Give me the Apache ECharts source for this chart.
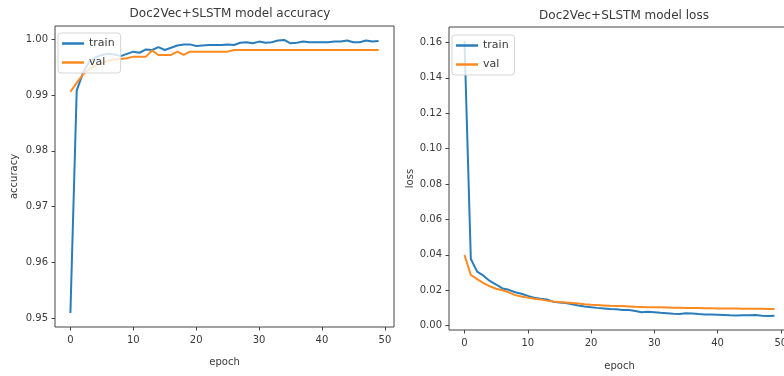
<!DOCTYPE html>
<html>
<head>
<meta charset="utf-8">
<script src="https://cdn.jsdelivr.net/npm/echarts@6/dist/echarts.min.js"></script>
<style>
  html, body { margin: 0; padding: 0; background: #fff; }
  #main { width: 784px; height: 376px; }
</style>
</head>
<body>
<div id="main"></div>
<script>
// values
var epochs = [];
for (var i = 0; i < 50; i++) epochs.push(i);

var trainAcc = [0.9509, 0.9908, 0.9940, 0.9960, 0.9968, 0.9972, 0.9974, 0.9973, 0.9970, 0.9974,
    0.9978, 0.9976, 0.9982, 0.9981, 0.9986, 0.9981, 0.9985, 0.9989, 0.9991, 0.9991,
    0.9988, 0.9989, 0.9990, 0.9990, 0.9990, 0.9991, 0.9990, 0.9994, 0.9995, 0.9993,
    0.9996, 0.9994, 0.9995, 0.9998, 0.9999, 0.9993, 0.9994, 0.9996, 0.9995, 0.9995,
    0.9995, 0.9995, 0.9996, 0.9996, 0.9998, 0.9995, 0.9995, 0.9998, 0.9996, 0.9997];
var valAcc = [0.9906, 0.9922, 0.9937, 0.9947, 0.9953, 0.9957, 0.9962, 0.9964, 0.9965, 0.9966,
    0.9969, 0.9969, 0.9969, 0.9980, 0.9972, 0.9972, 0.9972, 0.9978, 0.9972, 0.9978,
    0.9978, 0.9978, 0.9978, 0.9978, 0.9978, 0.9978, 0.9981, 0.9981, 0.9981, 0.9981,
    0.9981, 0.9981, 0.9981, 0.9981, 0.9981, 0.9981, 0.9981, 0.9981, 0.9981, 0.9981,
    0.9981, 0.9981, 0.9981, 0.9981, 0.9981, 0.9981, 0.9981, 0.9981, 0.9981, 0.9981];
var trainLoss = [0.1608, 0.0376, 0.0305, 0.0282, 0.0252, 0.0232, 0.0210, 0.0202, 0.0188, 0.0180,
    0.0168, 0.0158, 0.0152, 0.0148, 0.0135, 0.0131, 0.0127, 0.0120, 0.0113, 0.0108,
    0.0104, 0.0100, 0.0097, 0.0094, 0.0092, 0.0088, 0.0088, 0.0082, 0.0075, 0.0078,
    0.0075, 0.0072, 0.0070, 0.0067, 0.0066, 0.0070, 0.0068, 0.0065, 0.0063, 0.0062,
    0.0061, 0.0060, 0.0058, 0.0057, 0.0058, 0.0059, 0.0060, 0.0055, 0.0054, 0.0055];
var valLoss = [0.0399, 0.0286, 0.0262, 0.0240, 0.0222, 0.0208, 0.0200, 0.0188, 0.0172, 0.0164,
    0.0158, 0.0152, 0.0148, 0.0141, 0.0136, 0.0133, 0.0131, 0.0128, 0.0125, 0.0121,
    0.0118, 0.0116, 0.0114, 0.0112, 0.0111, 0.0110, 0.0108, 0.0106, 0.0105, 0.0104,
    0.0103, 0.0103, 0.0102, 0.0101, 0.0101, 0.0100, 0.0100, 0.0099, 0.0098, 0.0098,
    0.0097, 0.0097, 0.0096, 0.0096, 0.0095, 0.0095, 0.0095, 0.0095, 0.0094, 0.0094];

var xTicks = [0, 10, 20, 30, 40, 50];
var accTicks = [0.95, 0.96, 0.97, 0.98, 0.99, 1.00];
var lossTicks = [0.00, 0.02, 0.04, 0.06, 0.08, 0.10, 0.12, 0.14, 0.16];

var FONT = 'DejaVu Sans';
var TXT = '#3a3a3a';
var EDGE = '#444';
var BLUE = '#2a7dbb';
var ORANGE = '#ff8a1f';

function pairs(ys) {
    return ys.map(function (v, i) { return [epochs[i], v]; });
}

function xAxisOf(idx, gap) {
    return {
        type: 'value', gridIndex: idx, min: -2.45, max: 51.45,
        name: 'epoch', nameLocation: 'middle', nameGap: gap,
        nameTextStyle: { fontFamily: FONT, fontSize: 10, color: TXT },
        axisLine: { show: false, onZero: false },
        splitLine: { show: false },
        axisTick: { show: true, inside: false, length: 3.5, customValues: xTicks, lineStyle: { color: EDGE } },
        axisLabel: { customValues: xTicks, margin: 8, fontFamily: FONT, fontSize: 10, color: TXT }
    };
}

function yAxisOf(idx, name, min, max, ticks, gap) {
    return {
        type: 'value', gridIndex: idx, min: min, max: max,
        name: name, nameLocation: 'middle', nameGap: gap,
        nameTextStyle: { fontFamily: FONT, fontSize: 10, color: TXT },
        axisLine: { show: false, onZero: false },
        splitLine: { show: false },
        axisTick: { show: true, inside: false, length: 3.5, customValues: ticks, lineStyle: { color: EDGE } },
        axisLabel: {
            customValues: ticks, margin: 7, fontFamily: FONT, fontSize: 10, color: TXT,
            formatter: function (v) { return v.toFixed(2); }
        }
    };
}

function legendOf(left, top) {
    return {
        left: left, top: top, orient: 'vertical', align: 'left',
        data: ['train', 'val'], selectedMode: false,
        icon: 'rect', itemWidth: 22, itemHeight: 2.5, itemGap: 8,
        padding: [5, 6, 5, 4],
        backgroundColor: 'rgba(255,255,255,0.8)',
        borderColor: '#d6d6d6', borderWidth: 1, borderRadius: 3,
        textStyle: { fontFamily: FONT, fontSize: 11, color: TXT }
    };
}

function lineOf(name, data, color, xi, yi) {
    return {
        name: name, type: 'line', xAxisIndex: xi, yAxisIndex: yi,
        data: pairs(data), showSymbol: false, symbol: 'none',
        color: color, lineStyle: { color: color, width: 2 },
        animation: false
    };
}

var chart = echarts.init(document.getElementById('main'));
chart.setOption({
    backgroundColor: '#fff',
    animation: false,
    title: [
        { text: 'Doc2Vec+SLSTM model accuracy', left: 225, top: 3, textAlign: 'center',
          textStyle: { fontFamily: FONT, fontSize: 12, fontWeight: 'normal', color: TXT } },
        { text: 'Doc2Vec+SLSTM model loss', left: 619, top: 5, textAlign: 'center',
          textStyle: { fontFamily: FONT, fontSize: 12, fontWeight: 'normal', color: TXT } }
    ],
    grid: [
        { left: 55, top: 26, width: 339, height: 301, outerBoundsMode: 'none',
          show: true, borderColor: EDGE, borderWidth: 1, backgroundColor: 'transparent' },
        // right panel runs past the canvas edge, as in the picture
        { left: 449, top: 27, width: 341, height: 303, outerBoundsMode: 'none',
          show: true, borderColor: EDGE, borderWidth: 1, backgroundColor: 'transparent' }
    ],
    legend: [legendOf(58, 33), legendOf(452, 35)],
    xAxis: [xAxisOf(0, 30), xAxisOf(1, 31)],
    yAxis: [
        yAxisOf(0, 'accuracy', 0.9484, 1.0024, accTicks, 36),
        yAxisOf(1, 'loss', -0.0025, 0.1687, lossTicks, 34)
    ],
    series: [
        lineOf('train', trainAcc, BLUE, 0, 0),
        lineOf('val', valAcc, ORANGE, 0, 0),
        lineOf('train', trainLoss, BLUE, 1, 1),
        lineOf('val', valLoss, ORANGE, 1, 1)
    ]
});
</script>
</body>
</html>
